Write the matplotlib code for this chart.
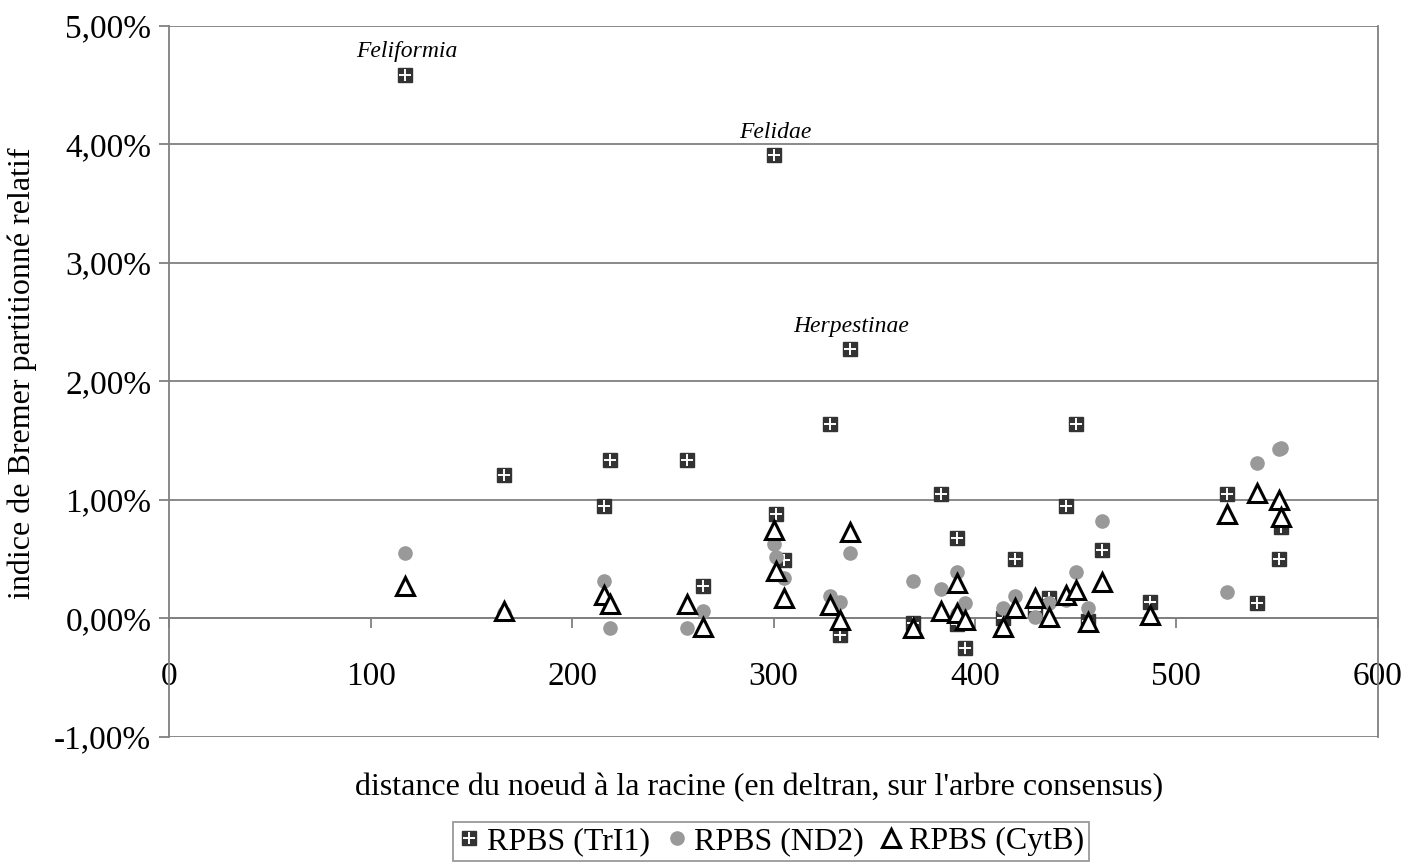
import numpy as np
import matplotlib.pyplot as plt
from matplotlib.ticker import FuncFormatter

# distance of each node to the root (deltran, consensus tree)
dist = [117, 166, 216, 219, 257, 265, 300, 301, 305, 328, 333, 338,
        369, 383, 391, 391, 395, 414, 420, 430, 437, 445, 450, 456,
        463, 487, 525, 540, 551, 552]

# relative partitioned Bremer support, in %
rpbs_tri1 = [4.59, 1.21, 0.95, 1.34, 1.34, 0.27, 3.91, 0.88, 0.49, 1.64, -0.14, 2.27,
             -0.04, 1.05, 0.68, -0.05, -0.25, 0.00, 0.50, 0.07, 0.17, 0.95, 1.64, -0.02,
             0.58, 0.14, 1.05, 0.13, 0.50, 0.77]
rpbs_nd2 = [0.55, 0.05, 0.32, -0.08, -0.08, 0.06, 0.63, 0.52, 0.34, 0.19, 0.14, 0.55,
            0.32, 0.25, 0.39, 0.04, 0.13, 0.09, 0.19, 0.01, 0.13, 0.16, 0.39, 0.09,
            0.82, 0.00, 0.22, 1.31, 1.43, 1.44]
rpbs_cytb = [0.27, 0.06, 0.20, 0.12, 0.12, -0.07, 0.75, 0.40, 0.17, 0.11, -0.01, 0.73,
             -0.08, 0.06, 0.30, 0.05, -0.01, -0.07, 0.09, 0.17, 0.01, 0.20, 0.24, -0.03,
             0.31, 0.03, 0.88, 1.06, 1.00, 0.86]

# labelled clades (index into the node lists)
clades = {0: 'Feliformia', 6: 'Felidae', 11: 'Herpestinae'}

plt.rcParams['font.family'] = ['Liberation Serif', 'DejaVu Serif']

fig = plt.figure(figsize=(14.17, 8.65), dpi=100)
ax = fig.add_axes([0.1195, 0.148, 0.8528, 0.822])

grey = '#808080'
for v in range(-1, 6):
    ax.axhline(v, color=grey, lw=1.3, zorder=1)

sq, = ax.plot(dist, rpbs_tri1, 's', ms=9.5, color='#333333', mec='#333333', zorder=3)
pl, = ax.plot(dist, rpbs_tri1, '+', ms=8.5, mew=1.4, color='white', zorder=3)
ci, = ax.plot(dist, rpbs_nd2, 'o', ms=9.5, color='#999999', mec='#999999', zorder=4)
tr, = ax.plot(dist, rpbs_cytb, '^', ms=13, mfc='white', mec='black', mew=2.2, zorder=5)

for i, name in clades.items():
    ax.annotate(name, (dist[i], rpbs_tri1[i]), xytext=(1, 9), textcoords='offset points',
                ha='center', va='bottom', fontsize=17, style='italic')

ax.set_xlim(0, 600)
ax.set_ylim(-1, 5)
ax.set_xticks(np.arange(0, 601, 100))
ax.set_yticks(np.arange(-1, 6, 1))
ax.yaxis.set_major_formatter(FuncFormatter(lambda v, p: f'{v:.2f}%'.replace('.', ',')))

ax.spines['bottom'].set_position(('data', 0))
ax.spines['bottom'].set_color(grey)
ax.spines['left'].set_color(grey)
ax.spines['right'].set_color(grey)
ax.spines['top'].set_visible(False)
for s in ax.spines.values():
    s.set_linewidth(1.3)

ax.tick_params(axis='both', direction='out', length=7, color=grey, width=1.3, labelsize=24)
ax.tick_params(axis='x', pad=24)
ax.tick_params(axis='y', pad=6)

ax.set_ylabel('indice de Bremer partitionné relatif', fontsize=23, va='center')
ax.yaxis.set_label_coords(-0.122, 0.512)
fig.text(0.536, 0.09, "distance du noeud à la racine (en deltran, sur l'arbre consensus)",
         ha='center', va='center', fontsize=23)

leg = fig.legend([(sq, pl), ci, tr], ['RPBS (TrI1)', 'RPBS (ND2)', 'RPBS (CytB)'],
                 loc='upper center', bbox_to_anchor=(0.544, 0.05), ncol=3, fontsize=23,
                 frameon=True, fancybox=False, edgecolor=grey, handlelength=0.7,
                 handletextpad=0.2, columnspacing=0.5, borderpad=0.15, borderaxespad=0)
leg.get_frame().set_linewidth(1.3)

fig.savefig('out.png', dpi=100)
